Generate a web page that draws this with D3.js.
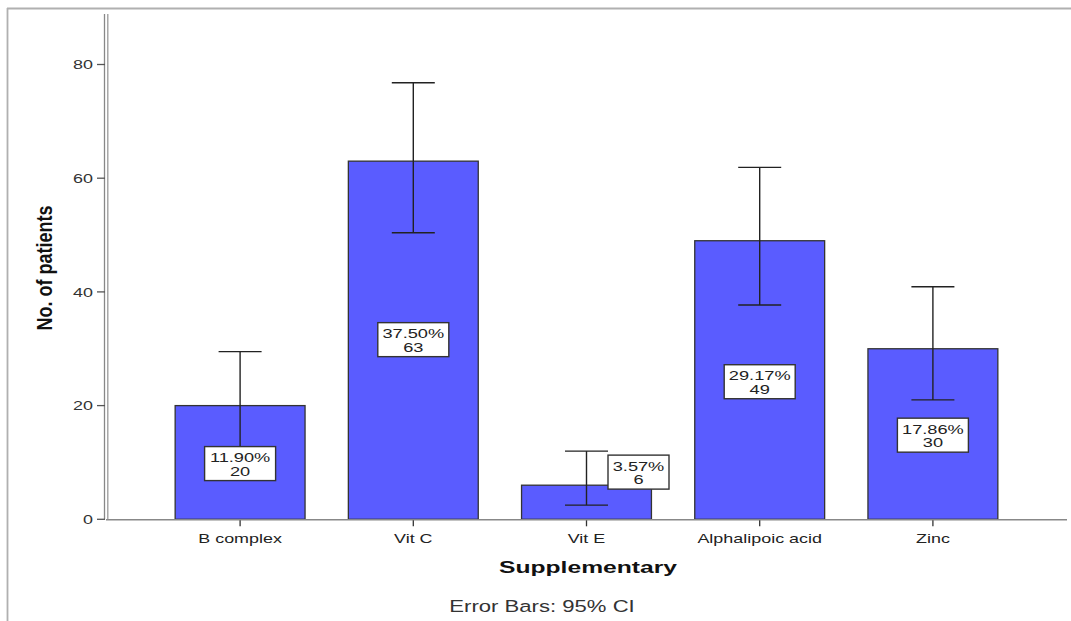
<!DOCTYPE html>
<html><head><meta charset="utf-8">
<script src="https://cdn.jsdelivr.net/npm/d3@7"></script>
<style>body{margin:0;background:#fff}svg{display:block}</style>
</head><body><svg id="c" width="1071" height="621"></svg>
<script>
const categories = ["B complex", "Vit C", "Vit E", "Alphalipoic acid", "Zinc"];
const counts = [20, 63, 6, 49, 30];
const percents = ["11.90%", "37.50%", "3.57%", "29.17%", "17.86%"];
const ciLow = [12.7, 50.4, 2.5, 37.7, 21.0];
const ciHigh = [29.5, 76.8, 12.0, 61.9, 40.9];
const labelYValue = [9.8, 31.6, 8.3, 24.2, 14.8];
const labelXShift = [0, 0, 52, 0, 0];
const yTicks = [0, 20, 40, 60, 80];

const svg = d3.select("#c");
const FONT = "Liberation Sans, Arial, sans-serif";
const x0 = 106, x1 = 1067, yBase = 519.3;
const y = d3.scaleLinear().domain([0, 80]).range([yBase, 64.5]);
const x = d3.scaleBand().domain(categories).range([153.5, 1019.5]).paddingInner(0.25).paddingOuter(0.125);

function txt(parent, tx, ty, s, opts) {
  opts = opts || {};
  const t = parent.append("text")
    .attr("transform", `translate(${tx},${ty}) scale(${opts.sx||1.38},1)`)
    .attr("text-anchor", opts.anchor || "middle")
    .attr("font-family", opts.family || FONT)
    .attr("font-size", opts.size || 13)
    .attr("fill", opts.fill || "#222")
    .text(s);
  if (opts.weight) t.attr("font-weight", opts.weight);
  return t;
}

// frame
svg.append("line").attr("x1",7).attr("x2",1071).attr("y1",8.5).attr("y2",8.5).attr("stroke","#b0b0b0").attr("stroke-width",1.8);
svg.append("line").attr("x1",7.5).attr("x2",7.5).attr("y1",8).attr("y2",621).attr("stroke","#b0b0b0").attr("stroke-width",1.8);

// bars
svg.selectAll("rect.bar").data(categories).enter().append("rect")
  .attr("x", d => x(d)).attr("width", x.bandwidth())
  .attr("y", (d,i) => y(counts[i])).attr("height", (d,i) => yBase - y(counts[i]))
  .attr("fill", "#5a5cff").attr("stroke", "#333").attr("stroke-width", 1.3);

// axes lines
svg.append("line").attr("x1",x0).attr("x2",x1).attr("y1",yBase+0.5).attr("y2",yBase+0.5).attr("stroke","#888").attr("stroke-width",1.6);
svg.append("line").attr("x1",x0-1.5).attr("x2",x0-1.5).attr("y1",14).attr("y2",yBase).attr("stroke","#888").attr("stroke-width",1.3);
svg.append("line").attr("x1",x0+1.8).attr("x2",x0+1.8).attr("y1",14).attr("y2",yBase).attr("stroke","#999").attr("stroke-width",1.3);

// y ticks
const yg = svg.append("g");
yTicks.forEach(t => {
  yg.append("line").attr("x1",97).attr("x2",x0-1).attr("y1",y(t)).attr("y2",y(t)).attr("stroke","#555").attr("stroke-width",1.3);
  txt(yg, 93, y(t)+4.7, t, {anchor:"end", fill:"#333"});
});

// x ticks
categories.forEach(c => {
  const cx = x(c) + x.bandwidth()/2;
  svg.append("line").attr("x1",cx).attr("x2",cx).attr("y1",yBase+1).attr("y2",yBase+7).attr("stroke","#333").attr("stroke-width",1.3);
  txt(svg, cx, 543, c, {fill:"#222"});
});

// error bars
categories.forEach((c,i) => {
  const cx = x(c) + x.bandwidth()/2;
  const g = svg.append("g").attr("stroke","#222").attr("stroke-width",1.4);
  g.append("line").attr("x1",cx).attr("x2",cx).attr("y1",y(ciLow[i])).attr("y2",y(ciHigh[i]));
  g.append("line").attr("x1",cx-21.5).attr("x2",cx+21.5).attr("y1",y(ciLow[i])).attr("y2",y(ciLow[i]));
  g.append("line").attr("x1",cx-21.5).attr("x2",cx+21.5).attr("y1",y(ciHigh[i])).attr("y2",y(ciHigh[i]));
});

// labels
categories.forEach((c,i) => {
  const cx = x(c) + x.bandwidth()/2 + labelXShift[i];
  const cy = y(labelYValue[i]);
  const g = svg.append("g");
  const w = percents[i].length > 5 ? 71 : 61, h = 34;
  g.append("rect").attr("x",cx-w/2).attr("y",cy-h/2).attr("width",w).attr("height",h)
    .attr("fill","#fff").attr("stroke","#333").attr("stroke-width",1.4);
  txt(g, cx, cy-1.5, percents[i], {size:13.5, sx:1.35});
  txt(g, cx, cy+12, counts[i], {size:13.5, sx:1.35});
});

// titles
svg.append("text").attr("transform","translate(52,268) rotate(-90) scale(1,1.2)").attr("text-anchor","middle")
  .attr("font-family",FONT).attr("font-weight","bold")
  .attr("font-size",18).attr("fill","#111").text("No. of patients");
txt(svg, 588, 573, "Supplementary", {size:17, sx:1.45, weight:"bold", fill:"#111"});
txt(svg, 542, 612, "Error Bars: 95% CI", {size:16.5, sx:1.34, fill:"#333"});
</script></body></html>
